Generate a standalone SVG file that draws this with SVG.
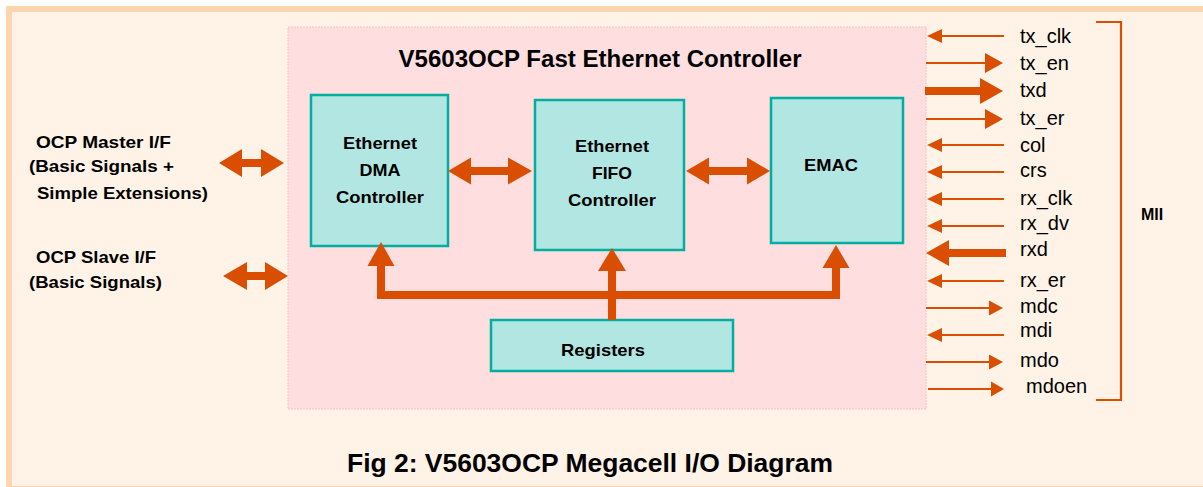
<svg xmlns="http://www.w3.org/2000/svg" width="1203" height="487" viewBox="0 0 1203 487">
<style>
.blk{fill:#B2E6E2;stroke:#00AFA0;stroke-width:2.5}
.bt{font-family:"Liberation Sans",Arial,sans-serif;font-weight:bold;font-size:17px;fill:#000;text-anchor:middle}
.lt{font-family:"Liberation Sans",Arial,sans-serif;font-weight:bold;font-size:17px;fill:#000}
.sig{font-family:"Liberation Sans",Arial,sans-serif;font-size:20px;fill:#000}
.or{fill:#D94E00}
.ln{stroke:#D94E00;stroke-width:2.2;fill:none}
.bus{stroke:#D94E00;stroke-width:8;fill:none}
</style>
<rect x="6" y="6" width="1200" height="481" fill="#FDD6AE"/>
<rect x="12" y="12" width="1195" height="474" fill="#FEF3E6"/>
<g id="controller">
<rect x="288" y="27" width="638" height="382" fill="#FFDEE0" stroke="#F6C2C8" stroke-width="1" stroke-dasharray="2,1"/>
<text x="600" y="67" class="bt" style="font-size:23px" textLength="403" lengthAdjust="spacingAndGlyphs">V5603OCP Fast Ethernet Controller</text>
</g>
<g id="dma">
<rect class="blk" x="311" y="95" width="137" height="151"/>
<text class="bt" x="380" y="149" textLength="74" lengthAdjust="spacingAndGlyphs">Ethernet</text>
<text class="bt" x="380" y="176" textLength="41" lengthAdjust="spacingAndGlyphs">DMA</text>
<text class="bt" x="380" y="203" textLength="88" lengthAdjust="spacingAndGlyphs">Controller</text>
</g>
<g id="fifo">
<rect class="blk" x="535" y="100" width="149" height="150"/>
<text class="bt" x="612" y="152" textLength="74" lengthAdjust="spacingAndGlyphs">Ethernet</text>
<text class="bt" x="612" y="179" textLength="40" lengthAdjust="spacingAndGlyphs">FIFO</text>
<text class="bt" x="612" y="206" textLength="88" lengthAdjust="spacingAndGlyphs">Controller</text>
</g>
<g id="emac">
<rect class="blk" x="771" y="98" width="132" height="145"/>
<text class="bt" x="831" y="171" textLength="54" lengthAdjust="spacingAndGlyphs">EMAC</text>
</g>
<g id="registers">
<rect class="blk" x="491" y="320" width="242" height="51"/>
<text class="bt" x="603" y="356" textLength="84" lengthAdjust="spacingAndGlyphs">Registers</text>
</g>
<g id="ocp-master">
<text class="lt" x="36" y="148" textLength="135" lengthAdjust="spacingAndGlyphs">OCP Master I/F</text>
<text class="lt" x="29" y="172" textLength="145" lengthAdjust="spacingAndGlyphs">(Basic Signals +</text>
<text class="lt" x="37" y="199" textLength="171" lengthAdjust="spacingAndGlyphs">Simple Extensions)</text>
</g>
<g id="ocp-slave">
<text class="lt" x="36" y="263" textLength="120" lengthAdjust="spacingAndGlyphs">OCP Slave I/F</text>
<text class="lt" x="29" y="288" textLength="133" lengthAdjust="spacingAndGlyphs">(Basic Signals)</text>
</g>
<g id="mii">
<path class="ln" d="M1096,22 H1121 V400 H1096"/>
<text class="lt" x="1141" y="220" style="font-size:16px">MII</text>
<text class="sig" x="1020" y="43">tx_clk</text>
<text class="sig" x="1020" y="70">tx_en</text>
<text class="sig" x="1020" y="97">txd</text>
<text class="sig" x="1020" y="125">tx_er</text>
<text class="sig" x="1020" y="152">col</text>
<text class="sig" x="1020" y="177">crs</text>
<text class="sig" x="1020" y="205">rx_clk</text>
<text class="sig" x="1020" y="230">rx_dv</text>
<text class="sig" x="1020" y="256">rxd</text>
<text class="sig" x="1020" y="287">rx_er</text>
<text class="sig" x="1020" y="313">mdc</text>
<text class="sig" x="1020" y="337">mdi</text>
<text class="sig" x="1020" y="367">mdo</text>
<text class="sig" x="1026" y="393">mdoen</text>
</g>
<g id="connectors">
<polygon class="or" points="448,171 471,157.5 471,167 508,167 508,157.5 532,171 508,184.5 508,175 471,175 471,184.5"/>
<polygon class="or" points="686,171 709,157.5 709,167 747,167 747,157.5 770,171 747,184.5 747,175 709,175 709,184.5"/>
<polygon class="or" points="219,163 242,149 242,159 261,159 261,149 284,163 261,177 261,167 242,167 242,177"/>
<polygon class="or" points="223,276 247,262 247,272 265,272 265,262 288,276 265,290 265,280 247,280 247,290"/>
<path class="bus" d="M381,264 V295 H836 V266"/>
<path class="bus" d="M612,269 V320"/>
<polygon class="or" points="381,242 394.5,266 367.5,266"/>
<polygon class="or" points="612,248 626,271 598,271"/>
<polygon class="or" points="836,245 849.5,268 822.5,268"/>
<line class="ln" x1="940" y1="36" x2="1004" y2="36"/><polygon class="or" points="927,36 942,29 942,43"/>
<line class="ln" x1="926" y1="63" x2="987" y2="63"/><polygon class="or" points="1003,63 985,53 985,73"/>
<rect class="or" x="925" y="87" width="57" height="8"/><polygon class="or" points="1003,91 980,78 980,104"/>
<line class="ln" x1="926" y1="119" x2="987" y2="119"/><polygon class="or" points="1003,119 985,109 985,129"/>
<line class="ln" x1="940" y1="145" x2="1004" y2="145"/><polygon class="or" points="927,145 942,138 942,152"/>
<line class="ln" x1="940" y1="172" x2="1004" y2="172"/><polygon class="or" points="927,172 942,165 942,179"/>
<line class="ln" x1="940" y1="199" x2="1004" y2="199"/><polygon class="or" points="927,199 942,192 942,206"/>
<line class="ln" x1="940" y1="226" x2="1004" y2="226"/><polygon class="or" points="927,226 942,219 942,233"/>
<rect class="or" x="947" y="249" width="59" height="8"/><polygon class="or" points="926,253 949,240 949,266"/>
<line class="ln" x1="940" y1="281" x2="1004" y2="281"/><polygon class="or" points="927,281 942,274 942,288"/>
<line class="ln" x1="926" y1="308" x2="991" y2="308"/><polygon class="or" points="1003,308 989,300.5 989,315.5"/>
<line class="ln" x1="940" y1="335" x2="1004" y2="335"/><polygon class="or" points="927,335 942,328 942,342"/>
<line class="ln" x1="926" y1="362" x2="991" y2="362"/><polygon class="or" points="1003,362 989,354.5 989,369.5"/>
<line class="ln" x1="928" y1="389" x2="993" y2="389"/><polygon class="or" points="1004,389 991,381.5 991,396.5"/>
</g>
<text x="590" y="472" class="bt" style="font-size:26px" textLength="486" lengthAdjust="spacingAndGlyphs">Fig 2: V5603OCP Megacell I/O Diagram</text>
</svg>
